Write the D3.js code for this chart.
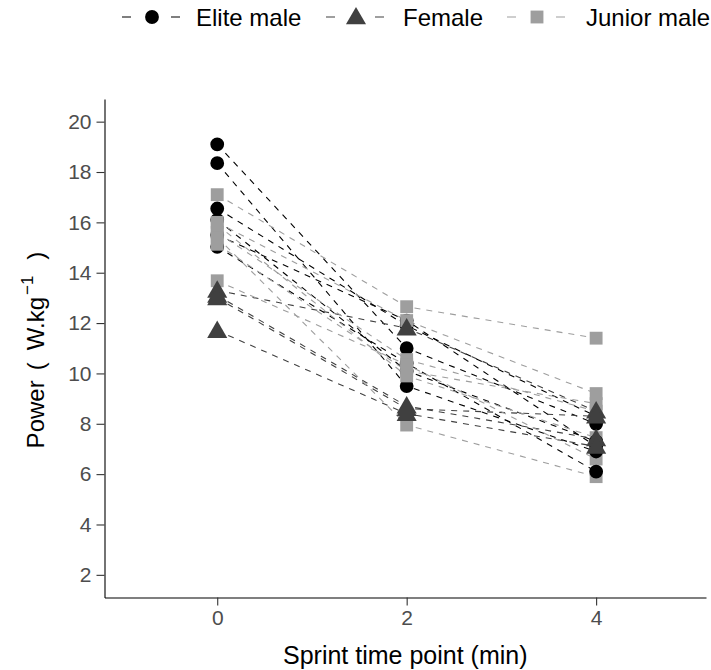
<!DOCTYPE html>
<html><head><meta charset="utf-8">
<script src="https://cdn.jsdelivr.net/npm/d3@7"></script>
<style>body{margin:0;background:#fff}svg{display:block}text{font-family:"Liberation Sans",Arial,sans-serif}</style>
</head><body>
<svg id="c" width="711" height="670"></svg>
<script>
const timePoints = [0, 2, 4];
const groups = ["Elite male", "Female", "Junior male"];
const groupColors = ["#000000", "#404040", "#9E9E9E"];
const eliteMale = [
  [19.1, 11.0, 8.0],
  [18.35, 9.5, 6.9],
  [16.55, 11.9, 8.3],
  [15.03, 10.4, 6.1],
  [16.1, 10.1, 7.3],
  [15.5, 12.1, 7.1]
];
const female = [
  [13.3, 11.8, 8.5],
  [13.1, 8.7, 7.4],
  [11.7, 8.4, 7.1],
  [13.0, 8.6, 8.3]
];
const juniorMale = [
  [17.1, 12.65, 11.4],
  [16.0, 12.1, 9.2],
  [15.6, 10.55, 8.5],
  [15.13, 10.1, 8.8],
  [15.9, 9.9, 7.45],
  [15.4, 7.95, 5.9],
  [13.68, 10.35, 6.6]
];
const yTicks = [2, 4, 6, 8, 10, 12, 14, 16, 18, 20];
const xTicks = [0, 2, 4];

(function () {
const svg = d3.select("#c");
const pLeft = 104.5, pRight = 706, pTop = 99, pBottom = 597.5;
const x = d3.scaleLinear().domain([-1.19, 5.16]).range([pLeft, pRight]);
const y = d3.scaleLinear().domain([1.1, 20.9]).range([pBottom, pTop]);

const data = [eliteMale, female, juniorMale];
const shapes = [d3.symbolCircle, d3.symbolTriangle, d3.symbolSquare];
const sizes = [150, 175, 165];
// stacking order of groups at each time point (overlap as in the original)
const drawOrder = [[0, 2, 1], [0, 2, 1], [2, 0, 1]];

// lines
data.forEach((subs, gi) => {
  subs.forEach(s => {
    svg.append("path")
      .attr("d", d3.line().x((v, i) => x(timePoints[i])).y(v => y(v))(s))
      .attr("fill", "none").attr("stroke", groupColors[gi])
      .attr("stroke-width", 1.1).attr("stroke-dasharray", "6,6");
  });
});
// points
timePoints.forEach((t, i) => {
  drawOrder[i].forEach(gi => {
    data[gi].forEach(s => {
      svg.append("path")
        .attr("d", d3.symbol().type(shapes[gi]).size(sizes[gi])())
        .attr("transform", `translate(${x(t)},${y(s[i]) + (gi === 1 ? 1.5 : 0)})`)
        .attr("fill", groupColors[gi]);
    });
  });
});

// axes
const fmt = d3.format("d");
const yAxis = svg.append("g").attr("transform", `translate(${pLeft},0)`)
  .call(d3.axisLeft(y).tickValues(yTicks).tickFormat(fmt).tickSize(8).tickPadding(5).tickSizeOuter(0));
const xAxis = svg.append("g").attr("transform", `translate(0,${pBottom})`)
  .call(d3.axisBottom(x).tickValues(xTicks).tickFormat(fmt).tickSize(8).tickPadding(4).tickSizeOuter(0));
[yAxis, xAxis].forEach(a => {
  a.select(".domain").attr("stroke", "#000").attr("stroke-width", 1.1);
  a.selectAll(".tick line").attr("stroke", "#333").attr("stroke-width", 1.1);
  a.selectAll(".tick text").attr("fill", "#4D4D4D").attr("font-size", 21)
    .attr("font-family", '"Liberation Sans",Arial,sans-serif');
});
xAxis.selectAll(".tick text").attr("dy", "0.75em");

svg.append("text").attr("x", (pLeft + pRight) / 2).attr("y", 664)
  .attr("text-anchor", "middle").attr("font-size", 25).text("Sprint time point (min)");
const yt = svg.append("text").attr("transform", `translate(44,350) rotate(-90)`)
  .attr("text-anchor", "middle").attr("font-size", 24);
yt.append("tspan").text("Power");
yt.append("tspan").attr("dx", 10).text("(");
yt.append("tspan").attr("dx", 12).text("W.kg");
yt.append("tspan").attr("dx", 2).attr("dy", -11).attr("font-size", 17).text("\u22121");
yt.append("tspan").attr("dx", 16).attr("dy", 11).text(")");

// legend
const legX = [122, 326, 507];
const legTextX = [196, 403, 586];
groups.forEach((g, gi) => {
  const cx = legX[gi] + 30;
  svg.append("line").attr("x1", legX[gi]).attr("x2", legX[gi] + 58)
    .attr("y1", 17).attr("y2", 17).attr("stroke", groupColors[gi])
    .attr("stroke-width", 1.1).attr("stroke-dasharray", "9,40,9");
  svg.append("path").attr("d", d3.symbol().type(shapes[gi]).size(sizes[gi])())
    .attr("transform", `translate(${cx},${17 + (gi === 1 ? 1.5 : 0)})`).attr("fill", groupColors[gi]);
  svg.append("text").attr("x", legTextX[gi]).attr("y", 26).attr("font-size", 24).text(g);
});
})();
</script>
</body></html>
